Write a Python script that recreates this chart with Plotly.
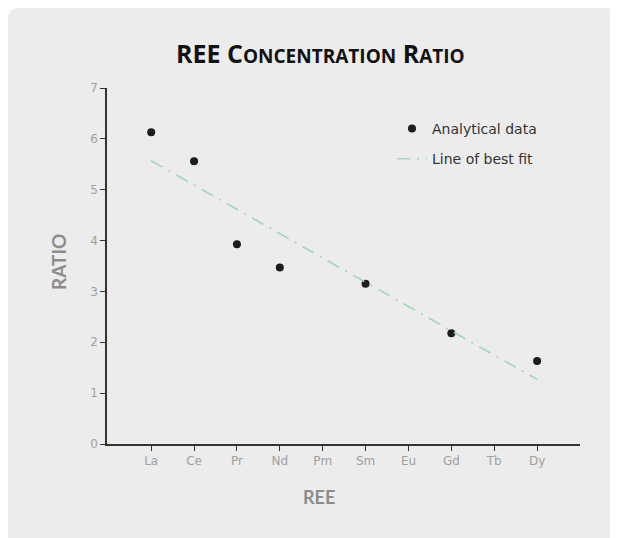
import plotly.graph_objects as go

elements = ["La", "Ce", "Pr", "Nd", "Pm", "Sm", "Eu", "Gd", "Tb", "Dy"]
data_elements = ["La", "Ce", "Pr", "Nd", "Sm", "Gd", "Dy"]
data_ratio = [6.13, 5.56, 3.93, 3.47, 3.15, 2.18, 1.63]
fit_elements = ["La", "Dy"]
fit_ratio = [5.57, 1.27]
y_ticks = [0, 1, 2, 3, 4, 5, 6, 7]

# page has an 8px body margin, so figure pixel = page pixel - 8
OFF = 8
W, H = 610, 530
ML, MR, MT, MB = 107 - OFF, 38, 88 - OFF, 94
PW, PH = W - ML - MR, H - MT - MB

def px_x(p):
    return (p - OFF - ML) / PW

def px_y(p):
    return 1 - (p - OFF - MT) / PH

fig = go.Figure()
fig.add_trace(go.Scatter(
    x=data_elements, y=data_ratio, mode="markers", name="Analytical data",
    marker=dict(color="#1c1c1c", size=8), legendgroup="a", cliponaxis=False))
fig.add_trace(go.Scatter(
    x=fit_elements, y=fit_ratio, mode="lines", name="Line of best fit",
    line=dict(color="#9dd8b7", width=1.6, dash="13px,7px,2px,7px"), legendgroup="b"))

# rounded grey panel (top corners rounded)
x0, y0, x1, y1, r = 8, 8, 618, 546, 11
path = (f"M {px_x(x0+r)},{px_y(y0)} L {px_x(x1-r)},{px_y(y0)} "
        f"Q {px_x(x1)},{px_y(y0)} {px_x(x1)},{px_y(y0+r)} "
        f"L {px_x(x1)},{px_y(y1)} L {px_x(x0)},{px_y(y1)} "
        f"L {px_x(x0)},{px_y(y0+r)} Q {px_x(x0)},{px_y(y0)} {px_x(x0+r)},{px_y(y0)} Z")

title_html = ("<b>REE C<span style='font-size:19px'>ONCENTRATION</span> "
              "R<span style='font-size:19px'>ATIO</span></b>")

fig.update_layout(
    width=W, height=H,
    margin=dict(l=ML, r=MR, t=MT, b=MB),
    paper_bgcolor="white",
    plot_bgcolor="white",
    shapes=[dict(type="path", path=path, xref="paper", yref="paper",
                 fillcolor="#ececec", line=dict(width=0), layer="below")],
    showlegend=True,
    legend=dict(x=px_x(392), y=px_y(113), xanchor="left", yanchor="top",
                bgcolor="rgba(0,0,0,0)", font=dict(family="DejaVu Sans", size=14, color="#333333"),
                traceorder="grouped", tracegroupgap=9),
    annotations=[
        dict(text=title_html, x=px_x(320), y=px_y(53), xref="paper", yref="paper",
             xanchor="center", yanchor="middle",
             showarrow=False, font=dict(family="Open Sans", size=25, color="#111111")),
        dict(text="<b>RATIO</b>", x=px_x(58), y=px_y(262), xref="paper", yref="paper",
             xanchor="center", yanchor="middle",
             showarrow=False, textangle=-90, font=dict(family="Lato", size=19, color="#8c8c8c")),
        dict(text="<b>REE</b>", x=px_x(319), y=px_y(497), xref="paper", yref="paper",
             xanchor="center", yanchor="middle",
             showarrow=False, font=dict(family="Lato", size=18, color="#8c8c8c")),
    ],
)
fig.update_xaxes(
    type="category", categoryorder="array", categoryarray=elements,
    range=[-1.03, 10.0], showgrid=False, zeroline=False,
    showline=True, linecolor="#333333", linewidth=1.5,
    ticks="outside", ticklen=5, tickcolor="#333333", tickwidth=1.3,
    tickfont=dict(family="DejaVu Sans", size=12, color="#a0a0a0"),
)
fig.update_yaxes(
    range=[0, 7], tickvals=y_ticks, showgrid=False, zeroline=False,
    showline=True, linecolor="#333333", linewidth=1.5,
    ticks="outside", ticklen=5, tickcolor="#333333", tickwidth=1.3,
    tickfont=dict(family="DejaVu Sans", size=12, color="#a0a0a0"),
)

fig.write_html("out.html")
